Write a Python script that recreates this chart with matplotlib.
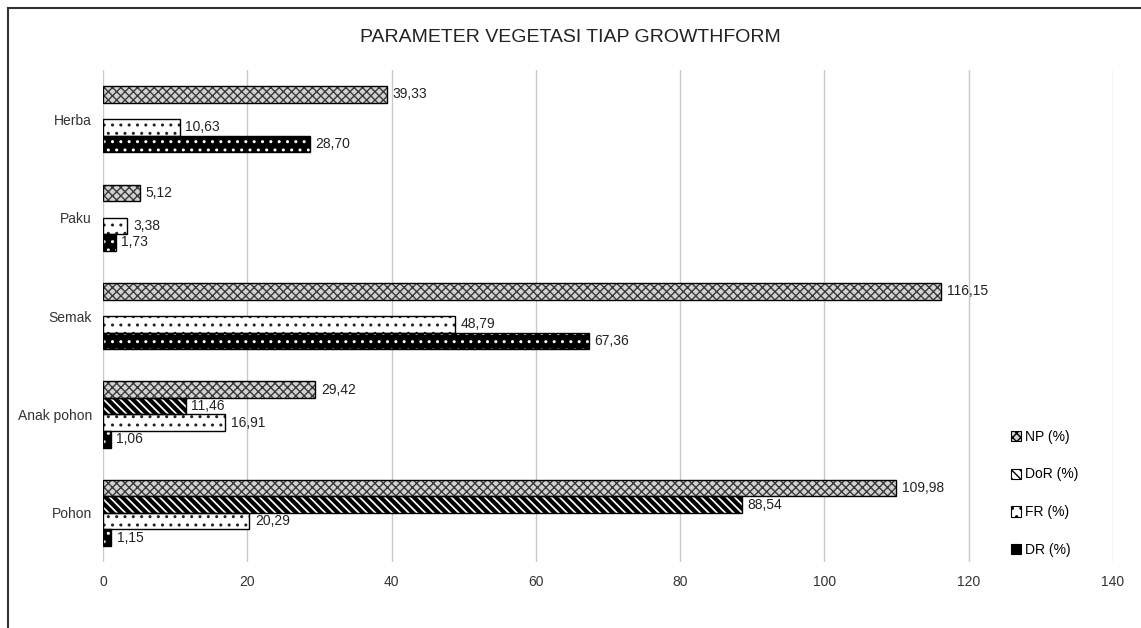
import matplotlib.pyplot as plt
import numpy as np
from matplotlib.lines import Line2D
from matplotlib.patches import Patch

# --- data -------------------------------------------------------------
categories = ["Pohon", "Anak pohon", "Semak", "Paku", "Herba"]
series = ["NP (%)", "DoR (%)", "FR (%)", "DR (%)"]
np_vals = [109.98, 29.42, 116.15, 5.12, 39.33]
dor_vals = [88.54, 11.46, np.nan, np.nan, np.nan]
fr_vals = [20.29, 16.91, 48.79, 3.38, 10.63]
dr_vals = [1.15, 1.06, 67.36, 1.73, 28.70]
x_ticks = [0, 20, 40, 60, 80, 100, 120, 140]

plt.rcParams["font.family"] = ["Liberation Sans", "DejaVu Sans"]

fig = plt.figure(figsize=(11.41, 6.28), dpi=100)
ax = fig.add_axes([0.0903, 0.105, 0.8852, 0.7835])

y = np.arange(len(categories))
h = 0.168
styles = [
    # (values, face, hatch colour, hatch, hatch lw, offset)
    (np_vals, "#d2d2d2", "#3a3a3a", "xxxx", 1.0, 1.5),
    (dor_vals, "white", "black", "\\\\\\\\", 3.0, 0.5),
    (fr_vals, "white", "#222222", "..", 1.0, -0.5),
    (dr_vals, "black", "white", "..", 1.0, -1.5),
]
proxies = []
for (vals, fc, hc, hatch, hlw, off), name in zip(styles, series):
    vals = np.array(vals, dtype=float)
    plt.rcParams["hatch.linewidth"] = hlw
    ax.barh(y + off * h, vals, height=h, color=fc, edgecolor=hc,
            hatch=hatch, linewidth=0, zorder=3)
    plt.rcParams["hatch.linewidth"] = 1.0
    # black outline on top
    ax.barh(y + off * h, vals, height=h, fill=False, edgecolor="black",
            linewidth=1.0, zorder=4)
    plt.rcParams["hatch.linewidth"] = min(hlw, 1.5)
    proxies.append(Patch(facecolor=fc, edgecolor="black", hatch=hatch,
                         linewidth=0.8, label=name))
    plt.rcParams["hatch.linewidth"] = 1.0
    for yy, v in zip(y + off * h, vals):
        if np.isnan(v):
            continue
        ax.annotate(f"{v:.2f}".replace(".", ","), (v, yy), xytext=(4, 0),
                    textcoords="offset points", va="center", ha="left",
                    fontsize=10, color="#222222")

ax.set_xlim(0, 140)
ax.set_ylim(-0.5, 4.5)
ax.set_xticks(x_ticks)
ax.set_yticks(y)
ax.set_yticklabels(categories)
ax.tick_params(length=0, labelsize=10, colors="#333333")
ax.tick_params(axis="x", pad=9)
ax.tick_params(axis="y", pad=8)
for s in ax.spines.values():
    s.set_visible(False)
ax.grid(axis="x", color="#c8c8c8", linewidth=1.0, zorder=0)
ax.set_axisbelow(True)

fig.text(0.5, 0.94, "PARAMETER VEGETASI TIAP GROWTHFORM", ha="center",
         va="center", fontsize=14, color="#222222")

fig.legend(handles=proxies, loc="upper left",
           bbox_to_anchor=(1005 / 1141, 1 - 424 / 628),
           frameon=False, fontsize=10, labelspacing=1.72,
           handlelength=0.75, handleheight=0.75, handletextpad=0.3,
           borderaxespad=0)

# figure frame (left and top edges visible)
fig.add_artist(Line2D([8 / 1141, 8 / 1141], [0, 1 - 8 / 628],
                      transform=fig.transFigure, color="#333333", lw=1.5))
fig.add_artist(Line2D([8 / 1141, 1], [1 - 8 / 628, 1 - 8 / 628],
                      transform=fig.transFigure, color="#333333", lw=1.5))

fig.savefig("out.png", dpi=100)
